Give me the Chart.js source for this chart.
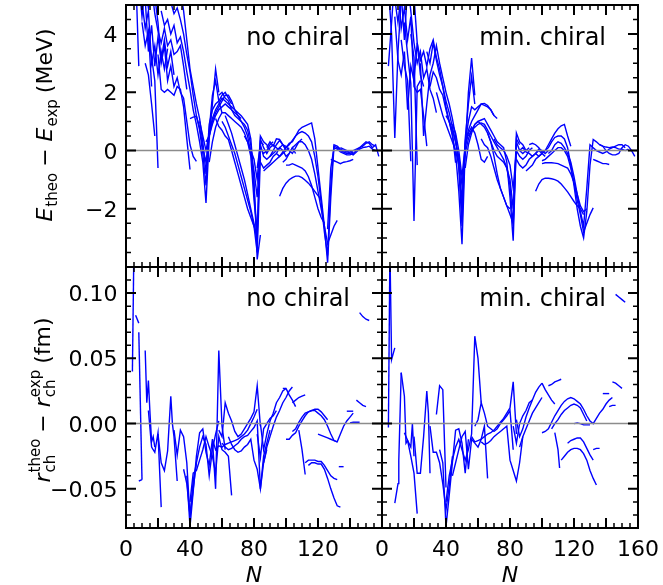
<!DOCTYPE html>
<html lang="en">
<head>
<meta charset="UTF-8">
<title>Energy and radius residuals vs N</title>
<script src="https://cdn.jsdelivr.net/npm/chart.js@4/dist/chart.umd.min.js"></script>
<style>
  body { margin: 0; background: #fff; }
  .wrap { position: relative; width: 663px; height: 585px; }
  .wrap canvas { position: absolute; }
</style>
</head>
<body>
<div class="wrap">
  <canvas id="eLeft" width="384" height="269" style="left:0;top:0"></canvas>
  <canvas id="eRight" width="303" height="269" style="left:360px;top:0"></canvas>
  <canvas id="rLeft" width="384" height="320" style="left:0;top:265px"></canvas>
  <canvas id="rRight" width="303" height="320" style="left:360px;top:265px"></canvas>
</div>
<script>
// tick labels
const nTicks = [0, 40, 80, 120, 160];
const eTicks = [-2, 0, 2, 4];
const rTicks = [-0.05, 0, 0.05, 0.10];

// E_theo - E_exp (MeV), one line per isotopic chain, [N, value]
const eNoChiral = [
  [[2,6.5],[4,5.6],[6,6.2],[8,2.9]],
  [[4,7.0],[6,5.4],[8,5.8],[10,4.6],[12,5.6],[14,4.9],[16,5.3]],
  [[8,6.0],[10,5.1],[12,4.2],[14,4.8],[16,3.0],[18,3.6],[20,2.6],[22,3.4],[24,2.8],[26,3.5]],
  [[10,4.4],[12,3.6],[14,4.1],[16,2.2]],
  [[12,5.2],[14,3.4],[16,4.3],[18,2.9],[20,3.9],[22,3.1],[24,3.8],[26,2.9],[28,3.4],[30,2.6]],
  [[14,3.9],[16,3.2],[18,2.4],[20,-0.6]],
  [[12,3.0],[14,2.6],[16,1.6],[18,0.5]],
  [[16,5.6],[18,4.7],[20,4.1],[22,3.7],[24,4.2],[26,3.6],[28,3.8],[30,3.3],[32,3.4],[34,3.6],[36,2.9],[38,2.1]],
  [[18,5.3],[20,4.4],[22,3.0],[24,3.6],[26,2.4],[28,2.9],[30,2.2],[32,2.5],[34,2.0],[36,1.8],[38,1.0],[40,0.2],[42,-0.2],[44,-0.37]],
  [[20,3.3],[22,2.1],[24,2.0],[26,2.1],[28,2.0],[30,1.9],[32,2.2],[34,2.1],[36,1.5],[38,0.4],[40,-0.65]],
  [[22,4.8],[24,4.3],[26,4.5],[28,4.0],[30,4.3],[32,3.7],[34,3.9],[36,3.4],[38,2.7],[40,2.1],[42,1.4],[44,0.9],[46,0.3],[48,-0.4],[50,-1.8],[52,0.4],[54,1.6],[56,2.8],[58,2.0]],
  [[26,5.6],[28,5.1],[30,4.7],[32,4.9],[34,4.5],[36,4.0],[38,3.3],[40,2.7],[42,1.9],[44,1.2],[46,0.7],[48,-0.1],[50,-1.2],[52,0.7],[54,1.9],[56,2.4],[58,1.7],[60,1.3]],
  [[34,5.5],[36,4.8],[38,3.8],[40,2.8],[42,2.2],[44,1.6],[46,1.1],[48,0.3],[50,-0.8],[52,0.9],[54,1.4],[56,1.6],[58,1.7],[60,1.9],[62,2.0],[64,1.8],[66,1.6]],
  [[40,1.1],[42,1.15],[44,1.18],[46,0.8],[48,0.1],[50,-0.4],[52,0.5],[54,1.0],[56,1.3],[58,1.5],[60,1.7],[62,1.9],[64,1.9],[66,1.7],[68,1.4],[70,1.2],[72,1.1]],
  [[46,1.0],[48,0.5],[50,0.0],[52,0.6],[54,1.1],[56,1.4],[58,1.6],[60,1.8],[62,1.7],[64,1.6],[66,1.5],[68,1.4],[70,1.3],[72,1.2],[74,1.05],[76,0.9],[78,0.4],[80,-1.0],[82,-3.74],[84,-2.9]],
  [[50,0.3],[52,0.5],[54,0.9],[56,1.2],[58,1.4],[60,1.5],[62,1.6],[64,1.5],[66,1.4],[68,1.3],[70,1.2],[72,1.0],[74,0.9],[76,0.7],[78,0.2],[80,-1.3],[82,-3.0],[84,0.3],[86,0.2]],
  [[52,-0.4],[54,0.3],[56,0.8],[58,1.1],[60,1.3],[62,1.3],[64,1.2],[66,1.1],[68,1.0],[70,0.9],[72,0.8],[74,0.6],[76,0.3],[78,-0.2],[80,-1.7],[82,-2.8],[84,0.5],[86,0.3],[88,0.2],[90,0.0]],
  [[56,1.1],[58,0.83],[60,0.7],[62,0.5],[64,0.38],[66,0.0],[68,-0.4],[70,-0.8],[72,-1.2],[74,-1.6],[76,-2.0],[78,-2.3],[80,-2.6],[82,-2.94]],
  [[60,1.0],[62,0.8],[64,0.5],[66,0.2],[68,-0.1],[70,-0.5],[72,-0.9],[74,-1.3],[76,-1.7],[78,-2.1],[80,-2.6],[82,-3.5],[84,-0.2]],
  [[62,1.2],[64,0.9],[66,0.6],[68,0.2],[70,-0.2],[72,-0.6],[74,-1.0],[76,-1.5],[78,-2.0],[80,-2.5],[82,-3.1]],
  [[58,1.9],[60,2.0],[62,1.8],[64,1.7],[66,1.4],[68,1.2],[70,1.1],[72,1.0],[74,0.8],[76,0.5],[78,-0.1],[80,-0.7],[82,-1.6],[84,0.1],[86,-0.1],[88,0.0],[90,0.2],[92,0.3]],
  [[74,0.5],[76,0.3],[78,0.0],[80,-0.3],[82,-1.0],[84,0.4],[86,0.1],[88,-0.1],[90,0.1],[92,0.2],[94,0.1],[96,0.0]],
  [[82,-0.6],[84,0.2],[86,-0.2],[88,-0.3],[90,-0.2],[92,0.0],[94,0.2],[96,0.35],[98,0.2],[100,0.0],[102,0.1]],
  [[84,-0.4],[86,-0.6],[88,-0.5],[90,-0.4],[92,-0.2],[94,-0.1],[96,0.1],[98,0.0],[100,-0.2],[102,-0.1],[104,0.1],[106,-0.1]],
  [[86,-0.7],[88,-0.6],[90,-0.5],[92,-0.4],[94,-0.3],[96,-0.2],[98,-0.1],[100,0.0]],
  [[90,-0.2],[92,-0.1],[94,0.0],[96,0.1],[98,0.2],[100,0.15],[102,0.0],[104,-0.1],[106,0.1],[108,0.3],[110,0.4]],
  [[88,0.1],[90,0.3],[92,0.15],[94,0.4],[96,0.38],[98,0.2],[100,0.1],[102,0.25],[104,0.3],[106,0.5],[108,0.7],[110,0.8],[112,0.85],[114,0.9],[116,0.95],[118,0.4],[120,-0.6],[122,-1.6],[124,-2.6],[126,-3.85],[128,-1.6],[130,0.15],[132,0.1],[134,0.0],[136,-0.05],[138,-0.1],[140,-0.1],[142,-0.05]],
  [[94,-0.1],[96,-0.2],[98,-0.05],[100,0.1],[102,0.2],[104,0.35],[106,0.5],[108,0.6],[110,0.65],[112,0.6],[114,0.5],[116,0.3],[118,-0.2],[120,-0.9],[122,-1.8],[124,-2.8],[126,-3.6],[128,-1.2],[130,0.2],[132,0.15],[134,0.05],[136,0.0],[138,-0.05],[140,-0.05],[142,0.0],[144,0.05],[146,0.1],[148,0.15],[150,0.25],[152,0.3],[154,0.2],[156,0.15]],
  [[98,-0.4],[100,-0.3],[102,-0.1],[104,0.1],[106,0.2],[108,0.3],[110,0.3],[112,0.2],[114,0.0],[116,-0.3],[118,-0.8],[120,-1.4],[122,-2.0],[124,-2.6],[126,-3.2],[128,-2.9],[130,-2.6],[132,-2.4]],
  [[96,-1.57],[98,-1.3],[100,-1.12],[102,-1.0],[104,-0.93],[106,-0.88],[108,-0.88],[110,-0.93],[112,-1.02],[114,-1.12],[116,-1.25],[118,-1.4],[120,-1.55],[122,-1.68]],
  [[100,-0.5],[102,-0.5],[104,-0.45],[106,-0.5],[108,-0.55],[110,-0.6],[112,-0.7],[114,-0.9],[116,-1.2],[118,-1.6],[120,-2.0],[122,-2.3],[124,-2.5]],
  [[126,-2.7],[128,-0.6],[130,0.1],[132,0.05],[134,-0.05],[136,-0.1],[138,-0.15],[140,-0.15],[142,-0.1],[144,0.0],[146,0.1],[148,0.2],[150,0.3],[152,0.25],[154,0.1],[156,0.2],[158,-0.2]],
  [[128,-0.3],[130,-0.35],[132,-0.4],[134,-0.45],[136,-0.4],[138,-0.38],[140,-0.35],[142,-0.3]],
  [[134,0.1],[136,0.05],[138,0.0],[140,-0.1],[142,-0.15],[144,-0.05],[146,0.05],[148,0.1],[150,0.12],[152,0.15],[154,0.05],[156,0.0]]
];

const eMinChiral = [
  [[4,2.9],[6,4.4],[8,6.0]],
  [[4,5.6],[6,4.0],[8,0.43],[10,3.4],[12,5.2]],
  [[6,6.5],[8,5.2],[10,4.4],[12,5.4],[14,3.8],[16,5.6]],
  [[8,4.6],[10,3.1],[12,2.6],[14,3.4],[16,1.4],[18,2.9],[20,2.4],[22,3.7],[24,2.6],[26,2.2]],
  [[10,5.8],[12,4.2],[14,4.9],[16,3.8],[18,4.6],[20,2.2],[22,2.0],[24,2.1],[26,1.2],[28,0.15]],
  [[12,3.8],[14,2.9],[16,2.4],[18,-0.37]],
  [[14,4.4],[16,3.3],[18,2.3],[20,-2.42],[22,2.2],[24,2.4]],
  [[16,5.8],[18,4.8],[20,3.7],[22,3.0],[24,3.4],[26,2.5],[28,2.8],[30,2.1],[32,1.8],[34,1.3]],
  [[18,4.0],[20,3.2],[22,-0.5]],
  [[20,5.3],[22,3.7],[24,3.1],[26,3.4],[28,2.9],[30,3.5],[32,3.8],[34,3.2],[36,2.8],[38,2.2],[40,1.5],[42,1.0],[44,0.5],[46,-0.1],[48,-1.4],[50,-3.22],[52,0.0],[54,2.0],[56,3.18],[58,1.9]],
  [[24,3.0],[26,0.5],[28,1.6],[30,2.6],[32,3.0],[34,3.6],[36,3.0],[38,2.5],[40,2.0],[42,1.6],[44,1.1],[46,0.5],[48,-0.6],[50,-2.6],[52,0.4],[54,1.6],[56,2.55],[58,1.6]],
  [[28,3.4],[30,3.0],[32,3.7],[34,3.1],[36,2.6],[38,2.2],[40,1.7],[42,1.3],[44,0.8],[46,0.3],[48,-0.4],[50,-2.1],[52,0.3],[54,1.0],[56,1.5],[58,1.4],[60,1.5],[62,1.6],[64,1.55],[66,1.5],[68,1.4],[70,1.2]],
  [[30,2.2],[32,2.7],[34,2.5],[36,2.1],[38,1.9],[40,1.4],[42,1.0],[44,0.6],[46,-0.42]],
  [[34,2.0],[36,1.6],[38,1.2],[40,0.9],[42,0.6],[44,0.3],[46,0.0],[48,-0.5],[50,-1.7],[52,0.1],[54,0.6],[56,0.8],[58,0.6],[60,0.2],[62,-0.3],[64,-0.4],[66,-0.2]],
  [[40,1.2],[42,1.0],[44,0.7],[46,0.3],[48,-0.2],[50,-1.2],[52,-0.1],[54,0.4],[56,0.7],[58,0.9],[60,1.0],[62,0.9],[64,0.8],[66,0.6],[68,0.3],[70,-0.2],[72,-0.8],[74,-1.3],[76,-1.6],[78,-1.9],[80,-2.0]],
  [[44,0.9],[46,0.6],[48,0.0],[50,-0.9],[52,0.2],[54,0.7],[56,1.0],[58,1.2],[60,1.4],[62,1.6],[64,1.62],[66,1.55],[68,1.4],[70,1.2],[72,1.1]],
  [[52,-0.6],[54,0.2],[56,0.6],[58,0.9],[60,1.0],[62,1.05],[64,1.1],[66,0.9],[68,0.7],[70,0.5],[72,0.3],[74,0.2],[76,0.1],[78,-0.4],[80,-1.6],[82,-3.1],[84,0.4],[86,0.2]],
  [[54,0.5],[56,0.7],[58,0.8],[60,0.9],[62,0.95],[64,0.9],[66,0.7],[68,0.5],[70,0.3],[72,0.1],[74,-0.1],[76,-0.3],[78,-0.6],[80,-1.2],[82,-2.6],[84,0.6],[86,0.3],[88,0.2],[90,0.0]],
  [[62,0.4],[64,0.2],[66,0.1],[68,-0.2],[70,-0.6],[72,-1.0],[74,-1.3],[76,-1.6],[78,-1.9],[80,-2.2],[82,-2.5],[84,0.2]],
  [[66,0.6],[68,0.3],[70,0.0],[72,-0.2],[74,-0.3],[76,-0.4],[78,-0.6],[80,-1.0],[82,-2.0],[84,0.3],[86,0.0],[88,-0.1],[90,0.0],[92,0.1]],
  [[70,0.4],[72,0.2],[74,0.1],[76,0.0],[78,-0.2],[80,-0.5],[82,-1.3],[84,0.0],[86,-0.2],[88,-0.3],[90,-0.2],[92,0.0],[94,0.1]],
  [[84,-0.3],[86,-0.5],[88,-0.6],[90,-0.5],[92,-0.3],[94,-0.2],[96,-0.1],[98,0.0],[100,-0.1]],
  [[86,0.0],[88,0.1],[90,-0.05],[92,-0.1],[94,-0.2],[96,-0.1],[98,0.05],[100,0.0],[102,-0.1],[104,0.0]],
  [[90,-0.7],[92,-0.6],[94,-0.5],[96,-0.3],[98,-0.2],[100,-0.1],[102,-0.2]],
  [[92,0.2],[94,0.25],[96,0.2],[98,0.1],[100,-0.05],[102,0.0],[104,0.2],[106,0.4],[108,0.6],[110,0.75],[112,0.85],[114,0.9],[116,0.5],[118,0.15]],
  [[96,-0.1],[98,-0.2],[100,-0.1],[102,0.0],[104,0.1],[106,0.3],[108,0.45],[110,0.5],[112,0.5],[114,0.4],[116,0.1],[118,-0.5],[120,-1.2],[122,-2.0],[124,-2.6],[126,-3.0],[128,-2.1],[130,-0.5],[132,0.38],[134,0.3],[136,0.2],[138,0.15],[140,0.0],[142,-0.1],[144,-0.15],[146,-0.15],[148,-0.1],[150,0.1],[152,0.2],[154,0.15],[156,0.0],[158,-0.2]],
  [[100,-0.35],[102,-0.3],[104,-0.2],[106,-0.1],[108,0.0],[110,0.1],[112,0.1],[114,0.0],[116,-0.2],[118,-0.6],[120,-1.1],[122,-1.7],[124,-2.2],[126,-2.8],[128,-2.5],[130,-2.2],[132,-1.97]],
  [[96,-1.4],[98,-1.15],[100,-1.0],[102,-0.95],[104,-0.95],[106,-0.97],[108,-1.0],[110,-1.05],[112,-1.15],[114,-1.28],[116,-1.42],[118,-1.58],[120,-1.75],[122,-1.9],[124,-2.0],[126,-2.2]],
  [[100,-0.45],[102,-0.42],[104,-0.42],[106,-0.42],[108,-0.43],[110,-0.45],[112,-0.5],[114,-0.55],[116,-0.6],[118,-0.8],[120,-1.1],[122,-1.5],[124,-1.9],[126,-2.1],[128,-2.0]],
  [[104,-0.1],[106,0.0],[108,0.2],[110,0.3],[112,0.25],[114,0.1],[116,-0.1],[118,-0.4],[120,-0.9],[122,-1.5],[124,-2.1],[126,-2.6],[128,-1.3],[130,0.2],[132,0.1],[134,0.0],[136,-0.05],[138,-0.1],[140,-0.05],[142,0.05],[144,0.1],[146,0.15],[148,0.2],[150,0.2],[152,0.1]],
  [[132,-0.3],[134,-0.35],[136,-0.4],[138,-0.45],[140,-0.45],[142,-0.48]],
  [[136,0.2],[138,0.15],[140,0.12],[142,0.1],[144,0.12],[146,0.1],[148,0.05],[150,0.05],[152,0.0],[154,0.05]]
];

// r_ch^theo - r_ch^exp (fm)
const rNoChiral = [
  [[4,0.040],[5,0.14]],
  [[6,0.083],[8,0.077]],
  [[8,0.070],[10,-0.043]],
  [[8,-0.044],[10,-0.043]],
  [[12,0.056],[13,0.016],[14,0.033],[15,0.008],[16,-0.014],[17,-0.010],[18,-0.018]],
  [[14,0.010],[16,-0.018],[18,-0.022],[20,-0.007],[22,-0.064]],
  [[20,-0.008],[22,-0.030],[24,-0.036],[26,-0.021],[28,0.021],[29,0.0],[30,-0.010],[32,-0.044]],
  [[30,-0.005],[32,-0.024],[34,-0.005],[36,-0.010],[38,-0.030],[40,-0.072],[42,-0.050],[44,-0.030]],
  [[38,-0.040],[40,-0.079],[42,-0.052],[44,-0.025],[46,-0.007],[48,-0.004],[50,-0.022],[52,-0.032],[54,-0.012],[56,-0.050],[58,0.056],[60,-0.002],[62,-0.020]],
  [[36,-0.035],[38,-0.046],[40,-0.070],[42,-0.044],[44,-0.030],[46,-0.018],[48,-0.010],[50,-0.016],[52,-0.040],[54,-0.020],[56,-0.008],[58,0.002]],
  [[40,-0.060],[42,-0.038],[44,-0.036],[46,-0.028],[48,-0.020],[50,-0.010],[52,-0.018],[54,-0.025],[56,-0.038],[58,-0.010],[60,-0.020],[62,-0.022],[64,-0.025],[66,-0.055]],
  [[54,-0.012],[56,-0.020],[58,-0.017],[60,-0.018],[62,-0.016],[64,-0.015],[66,-0.014],[68,-0.013],[70,-0.012],[72,-0.010],[74,-0.008],[76,-0.005],[78,0.000],[80,0.005],[82,0.011]],
  [[58,-0.005],[60,-0.010],[62,0.016],[64,0.008],[66,0.002],[68,-0.006],[70,-0.010],[72,-0.008],[74,-0.004],[76,0.0],[78,0.004],[80,0.009],[82,0.029],[84,-0.002]],
  [[60,-0.015],[62,-0.018],[64,-0.020],[66,-0.019],[68,-0.017],[70,-0.015],[72,-0.012],[74,-0.010],[76,-0.009],[78,-0.006],[80,-0.003],[82,0.002],[84,-0.050],[86,-0.030],[88,-0.020]],
  [[64,-0.010],[66,-0.016],[68,-0.020],[70,-0.022],[72,-0.021],[74,-0.018],[76,-0.016],[78,-0.012],[80,-0.028],[82,-0.035],[84,-0.050],[86,-0.025],[88,-0.015],[90,-0.005]],
  [[82,-0.008],[84,-0.026],[86,-0.004],[88,0.000],[90,0.004],[92,0.006],[94,0.010]],
  [[84,0.000],[86,-0.020],[88,-0.008],[90,0.002],[92,0.008],[94,0.016],[96,0.020],[98,0.025],[100,0.027]],
  [[86,-0.030],[88,-0.018],[90,-0.010],[92,-0.002],[94,0.005],[96,0.010],[98,0.016],[100,0.020],[102,0.025],[104,0.028]],
  [[98,0.027],[100,0.027],[102,0.022],[104,0.018],[106,0.013]],
  [[104,0.016],[106,0.018],[108,0.020],[110,0.021],[112,0.022]],
  [[100,-0.012],[102,-0.012],[104,-0.009],[106,-0.007],[108,-0.002],[110,0.002],[112,0.006],[114,0.009],[116,0.010],[118,0.011],[120,0.011],[122,0.009],[124,0.006],[126,0.003]],
  [[104,-0.006],[106,-0.004],[108,0.001],[110,0.005],[112,0.008],[114,0.009],[116,0.010],[118,0.010],[120,0.008],[122,0.006],[124,0.003],[126,-0.002],[128,-0.008],[130,-0.013],[132,-0.014],[134,-0.008],[136,-0.002],[138,0.002],[140,0.005],[142,0.008]],
  [[108,-0.005],[110,-0.020],[112,-0.039]],
  [[112,-0.030],[114,-0.028],[116,-0.028],[118,-0.028],[120,-0.029],[122,-0.029],[124,-0.032],[126,-0.036],[128,-0.040],[130,-0.042],[132,-0.043]],
  [[114,-0.032],[116,-0.030],[118,-0.030],[120,-0.031],[122,-0.031],[124,-0.035],[126,-0.042],[128,-0.050],[130,-0.057],[132,-0.063],[134,-0.064]],
  [[133,-0.033],[136,-0.033]],
  [[120,-0.008],[122,-0.009],[124,-0.010],[126,-0.011],[128,-0.012],[130,-0.013],[132,-0.014]],
  [[138,0.0095],[142,0.0095]],
  [[140,0.0005],[142,0.001],[144,0.001],[146,0.001]],
  [[144,0.018],[146,0.016],[148,0.014],[150,0.013]],
  [[146,0.085],[148,0.082],[150,0.080],[152,0.079]]
];

const rMinChiral = [
  [[4,-0.003],[5,0.14]],
  [[5,0.13],[6,0.049],[8,0.058]],
  [[8,-0.061],[10,-0.046],[10.5,-0.028],[12,0.039]],
  [[12,0.039],[14,0.021],[15,-0.015],[16,-0.013],[18,-0.018],[19,0.0],[20,-0.025]],
  [[14,-0.007],[16,-0.013],[18,-0.025],[20,-0.038],[22,-0.069]],
  [[20,-0.010],[22,-0.038],[24,-0.038],[26,-0.010],[28,0.025],[29,0.008],[30,-0.038]],
  [[30,-0.002],[32,-0.022],[34,-0.022],[36,-0.030],[38,-0.046],[40,-0.066],[42,-0.048],[44,-0.025]],
  [[34,0.007],[36,0.029],[38,0.026],[40,-0.049]],
  [[36,-0.020],[38,-0.030],[40,-0.079],[42,-0.055],[44,-0.030],[46,-0.005],[48,-0.004],[50,-0.015],[52,-0.038],[54,-0.012]],
  [[40,-0.060],[42,-0.040],[44,-0.028],[46,-0.018],[48,-0.012],[50,-0.020],[52,-0.028],[54,-0.020],[56,-0.008],[58,0.067],[60,0.050],[62,0.016]],
  [[44,-0.040],[46,-0.030],[48,-0.020],[50,-0.010],[52,-0.006],[54,-0.035],[56,-0.012],[58,-0.015],[60,-0.018],[62,-0.012],[64,-0.002],[66,-0.042]],
  [[56,-0.010],[58,-0.014],[60,-0.013],[62,-0.012],[64,-0.010],[66,-0.008],[68,-0.007],[70,-0.005],[72,-0.002],[74,0.001],[76,0.004],[78,0.008],[80,0.012],[82,0.032],[84,-0.008]],
  [[58,-0.002],[60,0.003],[62,0.016],[64,0.008],[66,-0.002],[68,-0.004],[70,-0.006],[72,-0.004],[74,0.0],[76,0.003],[78,0.006],[80,0.010],[82,-0.020]],
  [[62,-0.014],[64,-0.016],[66,-0.015],[68,-0.013],[70,-0.010],[72,-0.008],[74,-0.006],[76,-0.004],[78,-0.002],[80,-0.028],[82,-0.036],[84,-0.044],[86,-0.030],[88,-0.010]],
  [[82,-0.002],[84,-0.015],[86,0.000],[88,0.006],[90,0.010],[92,0.016],[94,0.018]],
  [[84,0.003],[86,-0.010],[88,-0.004],[90,0.005],[92,0.012],[94,0.018],[96,0.024],[98,0.028],[100,0.031]],
  [[86,-0.018],[88,-0.010],[90,-0.004],[92,0.002],[94,0.008],[96,0.012],[98,0.016],[100,0.020]],
  [[100,0.031],[102,0.026],[104,0.022],[106,0.018],[108,0.015]],
  [[104,0.029],[106,0.030],[108,0.032],[110,0.033],[112,0.034]],
  [[100,-0.007],[102,-0.006],[104,-0.004],[106,0.001],[108,0.006],[110,0.010],[112,0.014],[114,0.017],[116,0.019],[118,0.020],[120,0.019],[122,0.017],[124,0.015],[126,0.011],[128,0.006],[130,0.002],[132,0.000],[134,0.004],[136,0.008],[138,0.011],[140,0.015],[142,0.018],[144,0.020]],
  [[106,-0.004],[108,0.000],[110,0.003],[112,0.007],[114,0.010],[116,0.012],[118,0.014],[120,0.015],[122,0.014],[124,0.012],[126,0.007],[128,0.002]],
  [[108,-0.007],[110,-0.020],[111,-0.034]],
  [[116,-0.015],[118,-0.013],[120,-0.012],[122,-0.011],[124,-0.011],[126,-0.014],[128,-0.019],[130,-0.024],[132,-0.028]],
  [[112,-0.028],[114,-0.025],[116,-0.022],[118,-0.020],[120,-0.019],[122,-0.019],[124,-0.020],[126,-0.023],[128,-0.028],[130,-0.036],[132,-0.042],[134,-0.047]],
  [[132,-0.020],[134,-0.019],[136,-0.019]],
  [[120,0.000],[122,0.0005],[124,0.000],[126,-0.001],[128,-0.001],[130,-0.001]],
  [[138,0.023],[140,0.023],[142,0.023]],
  [[142,0.013],[144,0.014],[146,0.014]],
  [[144,0.032],[146,0.031],[148,0.029],[150,0.027]],
  [[146,0.099],[148,0.097],[150,0.095],[152,0.093]]
];

const FONT = '"DejaVu Sans", sans-serif';

function fmt(v, dec) {
  const s = Math.abs(v).toFixed(dec);
  return v < -1e-9 ? '\u2212' + s : s;
}

// axis title with sub/superscripts, rotated
function mathLabel(ctx, parts, bx, cy, size) {
  const small = Math.round(size * 0.7);
  const font = (it, s) => (it ? 'italic ' : '') + s + 'px ' + FONT;
  ctx.save();
  ctx.translate(bx, cy);
  ctx.rotate(-Math.PI / 2);
  ctx.textAlign = 'left';
  ctx.textBaseline = 'alphabetic';
  ctx.fillStyle = '#000';
  const items = parts.map(p => {
    ctx.font = font(p.it, size);
    const w = ctx.measureText(p.t).width;
    ctx.font = font(false, small);
    const sw = Math.max(p.sub ? ctx.measureText(p.sub).width : 0, p.sup ? ctx.measureText(p.sup).width : 0);
    return { p, w, sw };
  });
  const total = items.reduce((s, i) => s + i.w + i.sw, 0);
  let x = -total / 2;
  for (const { p, w, sw } of items) {
    ctx.font = font(p.it, size);
    ctx.fillText(p.t, x, 0);
    x += w;
    ctx.font = font(false, small);
    if (p.sub) ctx.fillText(p.sub, x + 1, size * 0.22);
    if (p.sup) ctx.fillText(p.sup, x + 1, -size * 0.45);
    x += sw;
  }
  ctx.restore();
}

// frame, inward ticks, zero line, labels
function decor(o) {
  return {
    id: 'decor',
    afterDatasetsDraw(chart) {
      const ctx = chart.ctx, a = chart.chartArea;
      const xs = chart.scales.x, ys = chart.scales.y;
      ctx.save();

      const y0 = ys.getPixelForValue(0);
      ctx.strokeStyle = '#8c8c8c';
      ctx.lineWidth = 1.5;
      ctx.beginPath();
      ctx.moveTo(a.left, y0);
      ctx.lineTo(a.right, y0);
      ctx.stroke();

      ctx.strokeStyle = '#000';
      for (let k = 0; k <= 32; k++) {
        const px = xs.getPixelForValue(k * 5);
        const major = k % 4 === 0;
        const len = major ? 10 : 5;
        ctx.lineWidth = major ? 2 : 1.5;
        ctx.beginPath();
        ctx.moveTo(px, a.top); ctx.lineTo(px, a.top + len);
        ctx.moveTo(px, a.bottom); ctx.lineTo(px, a.bottom - len);
        ctx.stroke();
      }
      const k0 = Math.round(ys.min / o.minor), k1 = Math.round(ys.max / o.minor);
      for (let k = k0; k <= k1; k++) {
        const py = ys.getPixelForValue(k * o.minor);
        const major = k % o.every === 0;
        const len = major ? 10 : 5;
        ctx.lineWidth = major ? 2 : 1.5;
        ctx.beginPath();
        ctx.moveTo(a.left, py); ctx.lineTo(a.left + len, py);
        ctx.moveTo(a.right, py); ctx.lineTo(a.right - len, py);
        ctx.stroke();
      }

      ctx.lineWidth = 2;
      ctx.strokeRect(a.left, a.top, a.right - a.left, a.bottom - a.top);

      ctx.fillStyle = '#000';
      ctx.font = '24px ' + FONT;
      ctx.textAlign = 'right';
      ctx.textBaseline = 'alphabetic';
      ctx.fillText(o.tag, a.right - 32, a.top + o.tagDy);

      ctx.font = '22px ' + FONT;
      if (o.yLabels) {
        ctx.textAlign = 'right';
        for (const v of o.yLabels) ctx.fillText(fmt(v, o.dec), a.left - 8.5, ys.getPixelForValue(v) + 8);
      }
      if (o.xLabels) {
        ctx.textAlign = 'center';
        for (const v of o.xLabels) ctx.fillText(String(v), xs.getPixelForValue(v), a.bottom + 28);
        ctx.font = 'italic 22px ' + FONT;
        ctx.fillText('N', (a.left + a.right) / 2, a.bottom + 54);
      }
      if (o.title) mathLabel(ctx, o.title, o.titleX, o.titleY, 22);
      ctx.restore();
    }
  };
}

function panel(id, chains, yMin, yMax, pad, o) {
  return new Chart(document.getElementById(id), {
    type: 'line',
    data: {
      datasets: chains.map(c => ({
        data: c.map(p => ({ x: p[0], y: p[1] })),
        borderColor: '#0000ff',
        borderWidth: 1.4,
        pointRadius: 0,
        tension: 0,
        fill: false,
        clip: 0
      }))
    },
    options: {
      responsive: false,
      animation: false,
      devicePixelRatio: 1,
      events: [],
      layout: { padding: pad },
      plugins: { legend: { display: false }, tooltip: { enabled: false } },
      scales: {
        x: { type: 'linear', min: 0, max: 160, display: false },
        y: { type: 'linear', min: yMin, max: yMax, display: false }
      }
    },
    plugins: [decor(o)]
  });
}

const eTitle = [
  { t: 'E', it: true, sub: 'theo' }, { t: ' \u2212 ' },
  { t: 'E', it: true, sub: 'exp' }, { t: ' (MeV)' }
];
const rTitle = [
  { t: 'r', it: true, sub: 'ch', sup: 'theo' }, { t: ' \u2212 ' },
  { t: 'r', it: true, sub: 'ch', sup: 'exp' }, { t: ' (fm)' }
];

panel('eLeft', eNoChiral, -4, 5, { left: 126, top: 5, right: 2, bottom: 2 },
  { minor: 0.5, every: 4, dec: 0, yLabels: eTicks, tag: 'no chiral', tagDy: 40,
    title: eTitle, titleX: 52, titleY: 125 });
panel('eRight', eMinChiral, -4, 5, { left: 22, top: 5, right: 25, bottom: 2 },
  { minor: 0.5, every: 4, dec: 0, tag: 'min. chiral', tagDy: 40 });
panel('rLeft', rNoChiral, -0.08, 0.12, { left: 126, top: 2, right: 2, bottom: 57 },
  { minor: 0.01, every: 5, dec: 2, yLabels: rTicks, xLabels: nTicks.slice(0, 4), tag: 'no chiral', tagDy: 39,
    title: rTitle, titleX: 50, titleY: 135 });
panel('rRight', rMinChiral, -0.08, 0.12, { left: 22, top: 2, right: 25, bottom: 57 },
  { minor: 0.01, every: 5, dec: 2, xLabels: nTicks, tag: 'min. chiral', tagDy: 39 });
</script>
</body>
</html>
